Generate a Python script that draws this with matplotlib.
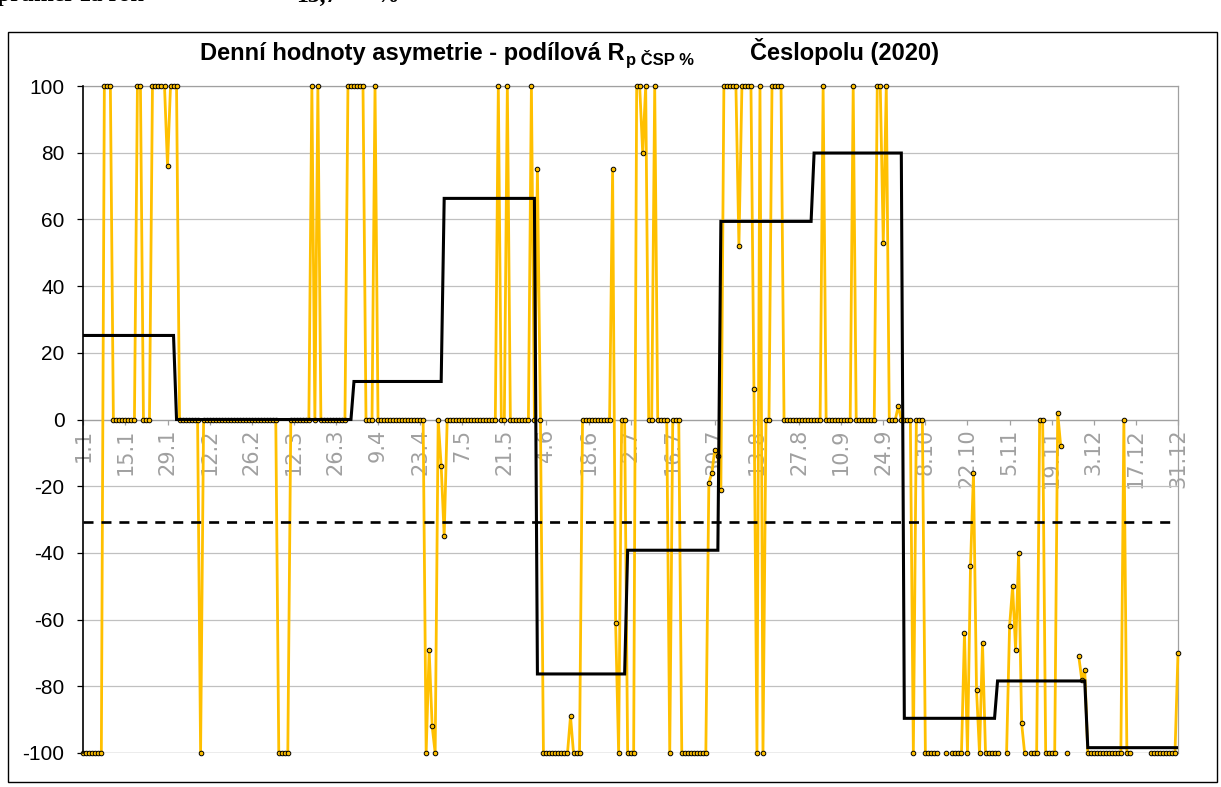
import numpy as np
import matplotlib
matplotlib.use("Agg")
import matplotlib.pyplot as plt
from matplotlib.patches import Rectangle

plt.rcParams["axes.unicode_minus"] = False
nan = np.nan

# ---------------- data ----------------
header_label = "průměr za rok"
header_value = "13,7"
header_unit = "%"

title_main = "Denní hodnoty asymetrie - podílová R"
title_sub = "p ČSP %"
title_tail = "Česlopolu (2020)"

tick_labels = ["1.1", "15.1", "29.1", "12.2", "26.2", "12.3", "26.3", "9.4", "23.4",
               "7.5", "21.5", "4.6", "18.6", "2.7", "16.7", "30.7", "13.8", "27.8",
               "10.9", "24.9", "8.10", "22.10", "5.11", "19.11", "3.12", "17.12", "31.12"]

# daily values (1.1. - 31.12.), nan = missing day
daily_values = [
    # January
    -100, -100, -100, -100, -100, -100, -100, 100, 100, 100,
    0, 0, 0, 0, 0, 0, 0, 0, 100, 100,
    0, 0, 0, 100, 100, 100, 100, 100, 76, 100, 100,
    # February
    100, 0, 0, 0, 0, 0, 0, 0, -100, 0,
    0, 0, 0, 0, 0, 0, 0, 0, 0, 0,
    0, 0, 0, 0, 0, 0, 0, 0,
    # March
    0, 0, 0, 0, 0, 0, -100, -100, -100, -100,
    0, 0, 0, 0, 0, 0, 0, 100, 0, 100,
    0, 0, 0, 0, 0, 0, 0, 0, 0, 100, 100,
    # April
    100, 100, 100, 100, 0, 0, 0, 100, 0, 0,
    0, 0, 0, 0, 0, 0, 0, 0, 0, 0,
    0, 0, 0, 0, -100, -69, -92, -100, 0, -14,
    # May
    -35, 0, 0, 0, 0, 0, 0, 0, 0, 0,
    0, 0, 0, 0, 0, 0, 0, 0, 100, 0,
    0, 100, 0, 0, 0, 0, 0, 0, 0, 100, 0,
    # June
    75, 0, -100, -100, -100, -100, -100, -100, -100, -100,
    -100, -89, -100, -100, -100, 0, 0, 0, 0, 0,
    0, 0, 0, 0, 0, 75, -61, -100, 0, 0,
    # July
    -100, -100, -100, 100, 100, 80, 100, 0, 0, 100,
    0, 0, 0, 0, -100, 0, 0, 0, -100, -100,
    -100, -100, -100, -100, -100, -100, -100, -19, -16, -9, -11,
    # August
    -21, 100, 100, 100, 100, 100, 52, 100, 100, 100,
    100, 9, -100, 100, -100, 0, 0, 100, 100, 100,
    100, 0, 0, 0, 0, 0, 0, 0, 0, 0, 0,
    # September
    0, 0, 0, 100, 0, 0, 0, 0, 0, 0,
    0, 0, 0, 100, 0, 0, 0, 0, 0, 0,
    0, 100, 100, 53, 100, 0, 0, 0, 4, 0,
    # October
    0, 0, 0, -100, 0, 0, 0, -100, -100, -100,
    -100, -100, nan, nan, -100, nan, -100, -100, -100, -100,
    -64, -100, -44, -16, -81, -100, -67, -100, -100, -100, -100,
    # November
    -100, nan, nan, -100, -62, -50, -69, -40, -91, -100,
    nan, -100, -100, -100, 0, 0, -100, -100, -100, -100,
    2, -8, nan, -100, nan, nan, nan, -71, -78, -75,
    # December
    -100, -100, -100, -100, -100, -100, -100, -100, -100, -100,
    -100, -100, 0, -100, -100, nan, nan, nan, nan, nan,
    nan, -100, -100, -100, -100, -100, -100, -100, -100, -100, -70,
]

month_lengths = [31, 28, 31, 30, 31, 30, 31, 31, 30, 31, 30, 31]
monthly_values = [25.2, 0.0, 0.0, 11.4, 66.3, -76.3, -39.2, 59.4, 79.9, -89.6, -78.4, -98.4]
year_value = -30.8

assert len(daily_values) == 365, len(daily_values)

# ---------------- figure ----------------
W, H = 1221, 787
fig = plt.figure(figsize=(W / 100, H / 100), dpi=100)
fig.patch.set_facecolor("white")

# outer chart border
fig.patches.append(Rectangle((8 / W, 1 - 782 / H), (1217 - 8) / W, (782 - 32) / H,
                             transform=fig.transFigure, fill=False,
                             edgecolor="black", linewidth=1.0))

# cut header above the chart
serif = ["Liberation Serif", "DejaVu Serif"]
hy = 1 - 1.5 / H
fig.text(-3 / W, hy, header_label, family=serif, weight="bold", fontsize=17,
         ha="left", va="baseline")
fig.text(337 / W, hy, header_value, family=serif, weight="bold", fontsize=17,
         ha="right", va="baseline")
fig.text(376 / W, hy, header_unit, family=serif, weight="bold", fontsize=17,
         ha="left", va="baseline")

L, R, T, B = 83.3, 1178.0, 86.0, 753.0
ax = fig.add_axes([L / W, 1 - B / H, (R - L) / W, (B - T) / H])

days = np.arange(len(daily_values))
vals = np.array(daily_values, dtype=float)

step_vals = np.repeat(monthly_values, month_lengths)

ax.plot(days, vals, color="#FFC000", linewidth=2.0, marker="o", markersize=3.3,
        markerfacecolor="#FFC000", markeredgecolor="black", markeredgewidth=0.7,
        zorder=3, clip_on=False)
ax.axhline(year_value, color="black", linewidth=1.9, dashes=(3.8, 3.0), zorder=4)
ax.plot(days, step_vals, color="black", linewidth=2.2, zorder=5, solid_joinstyle="miter")

ax.set_xlim(0, 364)
ax.set_ylim(-100, 100)

# grid
ax.set_yticks(np.arange(-100, 101, 20))
ax.set_yticklabels([str(v) for v in range(-100, 101, 20)])
ax.yaxis.grid(True, color="#C0C0C0", linewidth=0.9, zorder=0)
ax.set_axisbelow(True)

ax.tick_params(axis="y", direction="out", length=4.5, width=0.9, color="black",
               labelsize=15, pad=9, labelcolor="black")

ax.set_xticks(np.arange(0, 365, 14))
ax.set_xticklabels(tick_labels)
ax.tick_params(axis="x", direction="out", length=3.5, width=0.9, color="#A0A0A0",
               labelsize=15, pad=3, labelcolor="#A0A0A0", labelrotation=90)
for lab in ax.get_xticklabels() + ax.get_yticklabels():
    lab.set_family(["Liberation Sans", "DejaVu Sans"])
for lab in ax.get_xticklabels():
    lab.set_rotation(90)
    lab.set_va("top")
    lab.set_ha("center")

ax.spines["bottom"].set_position(("data", 0))
ax.spines["bottom"].set_color("#A0A0A0")
ax.spines["bottom"].set_linewidth(0.9)
ax.spines["left"].set_color("black")
ax.spines["left"].set_linewidth(1.2)
for s in ("top", "right"):
    ax.spines[s].set_color("#A0A0A0")
    ax.spines[s].set_linewidth(0.9)
ax.spines["left"].set_zorder(6)

# bottom border of plot area (at -100)
ax.axhline(-100, color="#A0A0A0", linewidth=0.9, zorder=1)

# title assembled from three pieces
fig.canvas.draw()
rend = fig.canvas.get_renderer()
sans = ["Liberation Sans", "DejaVu Sans"]
ty = 1 - 60 / H
t1 = fig.text(200 / W, ty, title_main, family=sans, weight="bold", fontsize=17,
              ha="left", va="baseline")
bb1 = t1.get_window_extent(rend)
t2 = fig.text(bb1.x1 / W + 2 / W, ty - 5 / H, title_sub, family=sans, weight="bold",
              fontsize=12, ha="left", va="baseline")
t3 = fig.text(750 / W, ty, title_tail, family=sans, weight="bold", fontsize=17,
              ha="left", va="baseline")

fig.savefig("out.png", dpi=100, facecolor="white")
